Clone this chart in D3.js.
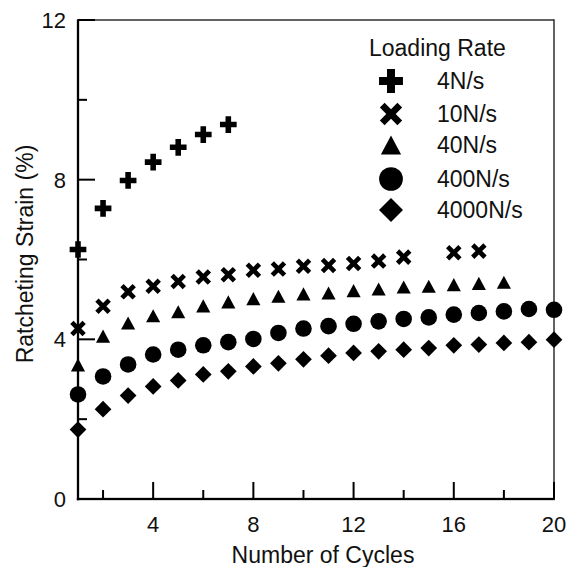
<!DOCTYPE html>
<html>
<head>
<meta charset="utf-8">
<script src="https://cdn.jsdelivr.net/npm/d3@7"></script>
<style>
  html, body { margin: 0; padding: 0; background: #fff; }
  svg { display: block; }
  text { font-family: "Liberation Sans", Arial, sans-serif; fill: #111; }
</style>
</head>
<body>
<div id="chart"></div>
<script>
// ---------- data ----------
const seriesNames = ["4N/s", "10N/s", "40N/s", "400N/s", "4000N/s"];
const legendTitle = "Loading Rate";
const xLabel = "Number of Cycles";
const yLabel = "Ratcheting Strain (%)";
const xTickLabels = [4, 8, 12, 16, 20];
const yTickLabels = [0, 4, 8, 12];
const xMinorTicks = [2, 6, 10, 14, 18];
const yMinorTicks = [2, 6, 10];

const cycles4 = [1, 2, 3, 4, 5, 6, 7];
const strain4 = [6.25, 7.28, 7.98, 8.44, 8.81, 9.13, 9.38];

const cycles10 = [1, 2, 3, 4, 5, 6, 7, 8, 9, 10, 11, 12, 13, 14, 16, 17];
const strain10 = [4.27, 4.83, 5.19, 5.33, 5.45, 5.56, 5.62, 5.73, 5.76, 5.83, 5.85, 5.90, 5.96, 6.06, 6.17, 6.21];

const cycles40 = [1, 2, 3, 4, 5, 6, 7, 8, 9, 10, 11, 12, 13, 14, 15, 16, 17, 18];
const strain40 = [3.36, 4.08, 4.41, 4.59, 4.69, 4.84, 4.94, 5.02, 5.08, 5.14, 5.16, 5.22, 5.26, 5.31, 5.33, 5.37, 5.40, 5.43];

const cycles400 = [1, 2, 3, 4, 5, 6, 7, 8, 9, 10, 11, 12, 13, 14, 15, 16, 17, 18, 19, 20];
const strain400 = [2.62, 3.07, 3.37, 3.62, 3.74, 3.85, 3.93, 4.01, 4.16, 4.27, 4.33, 4.39, 4.45, 4.51, 4.55, 4.62, 4.66, 4.70, 4.76, 4.74];

const cycles4000 = [1, 2, 3, 4, 5, 6, 7, 8, 9, 10, 11, 12, 13, 14, 15, 16, 17, 18, 19, 20];
const strain4000 = [1.74, 2.25, 2.59, 2.82, 2.97, 3.12, 3.20, 3.32, 3.40, 3.50, 3.59, 3.66, 3.70, 3.74, 3.78, 3.85, 3.87, 3.91, 3.93, 3.99];

// ---------- symbols ----------
const symPlus = d3.symbolCross;
const symX = {
  draw(ctx, size) {
    const a = Math.sqrt(size) * 0.5, b = a * 0.27, s = Math.SQRT1_2;
    const pts = [[-a,-b],[-b,-b],[-b,-a],[b,-a],[b,-b],[a,-b],[a,b],[b,b],[b,a],[-b,a],[-b,b],[-a,b]];
    pts.forEach((p, i) => {
      const px = (p[0] - p[1]) * s, py = (p[0] + p[1]) * s;
      if (i === 0) ctx.moveTo(px, py); else ctx.lineTo(px, py);
    });
    ctx.closePath();
  }
};
const symTri = {
  draw(ctx, size) {
    const w = Math.sqrt(size) * 1.0, h = w * 0.93;
    ctx.moveTo(0, -h / 2);
    ctx.lineTo(w / 2, h / 2);
    ctx.lineTo(-w / 2, h / 2);
    ctx.closePath();
  }
};
const symDiamond = {
  draw(ctx, size) {
    const r = Math.sqrt(size) / 2;
    ctx.moveTo(0, -r); ctx.lineTo(r, 0); ctx.lineTo(0, r); ctx.lineTo(-r, 0); ctx.closePath();
  }
};

const series = [
  { name: seriesNames[0], xs: cycles4, ys: strain4, type: symPlus, size: 155 },
  { name: seriesNames[1], xs: cycles10, ys: strain10, type: symX, size: 300 },
  { name: seriesNames[2], xs: cycles40, ys: strain40, type: symTri, size: 200 },
  { name: seriesNames[3], xs: cycles400, ys: strain400, type: d3.symbolCircle, size: 216 },
  { name: seriesNames[4], xs: cycles4000, ys: strain4000, type: symDiamond, size: 280 }
];

// ---------- layout ----------
const W = 566, H = 567;
const mLeft = 78, mRight = 554, mTop = 20, mBottom = 499;

const x = d3.scaleLinear().domain([1, 20]).range([mLeft, mRight]);
const y = d3.scaleLinear().domain([0, 12]).range([mBottom, mTop]);

const svg = d3.select("#chart").append("svg").attr("width", W).attr("height", H);

const ink = "#000";
const frame = svg.append("g").attr("fill", ink);
// top & right frame (thin)
frame.append("rect").attr("x", mLeft).attr("y", mTop - 0.7).attr("width", mRight - mLeft).attr("height", 1.4).attr("fill", "#222");
frame.append("rect").attr("x", mRight - 0.7).attr("y", mTop - 0.7).attr("width", 1.4).attr("height", mBottom - mTop + 1).attr("fill", "#222");
// axis lines (thicker)
frame.append("rect").attr("x", mLeft - 1.15).attr("y", mBottom - 1.15).attr("width", mRight - mLeft + 2).attr("height", 2.3);
frame.append("rect").attr("x", mLeft - 1.15).attr("y", mTop - 0.7).attr("width", 2.3).attr("height", mBottom - mTop + 2);

// ticks (inward)
const tw = 2;
frame.selectAll("rect.xmaj").data(xTickLabels).join("rect").attr("class", "xmaj")
  .attr("x", d => x(d) - tw / 2).attr("y", mBottom - 17).attr("width", tw).attr("height", 17);
frame.selectAll("rect.xmin").data(xMinorTicks).join("rect").attr("class", "xmin")
  .attr("x", d => x(d) - tw / 2).attr("y", mBottom - 9).attr("width", tw).attr("height", 9);
frame.selectAll("rect.ymaj").data(yTickLabels).join("rect").attr("class", "ymaj")
  .attr("x", mLeft).attr("y", d => y(d) - tw / 2).attr("width", 17).attr("height", tw);
frame.selectAll("rect.ymin").data(yMinorTicks).join("rect").attr("class", "ymin")
  .attr("x", mLeft).attr("y", d => y(d) - tw / 2).attr("width", 9).attr("height", tw);

// tick labels
svg.append("g").selectAll("text").data(xTickLabels).join("text")
  .attr("x", d => x(d)).attr("y", 532).attr("text-anchor", "middle").attr("font-size", 22)
  .text(d => d);
svg.append("g").selectAll("text").data(yTickLabels).join("text")
  .attr("x", 66).attr("y", d => y(d) + 8).attr("text-anchor", "end").attr("font-size", 22)
  .text(d => d);

// axis titles
svg.append("text").attr("x", (mLeft + mRight) / 2 + 7).attr("y", 563)
  .attr("text-anchor", "middle").attr("font-size", 23).text(xLabel);
svg.append("text").attr("transform", `translate(33,254) rotate(-90)`)
  .attr("text-anchor", "middle").attr("font-size", 23).text(yLabel);

// data marks
series.forEach(s => {
  const sym = d3.symbol().type(s.type).size(s.size);
  svg.append("g").selectAll("path")
    .data(s.xs.map((cx, i) => ({ cx, cy: s.ys[i] })))
    .join("path")
    .attr("d", sym)
    .attr("transform", d => `translate(${x(d.cx)},${y(d.cy)})`)
    .attr("fill", "#000");
});

// legend
const lg = svg.append("g");
lg.append("text").attr("x", 369).attr("y", 56).attr("font-size", 23).text(legendTitle);
const legendY = [81, 114, 145, 179, 210];
series.forEach((s, i) => {
  lg.append("path")
    .attr("d", d3.symbol().type(s.type).size(s.size * 2.05)())
    .attr("transform", `translate(391,${legendY[i]})`)
    .attr("fill", "#000");
  lg.append("text").attr("x", 437).attr("y", legendY[i] + 8).attr("font-size", 23).text(s.name);
});
</script>
</body>
</html>
